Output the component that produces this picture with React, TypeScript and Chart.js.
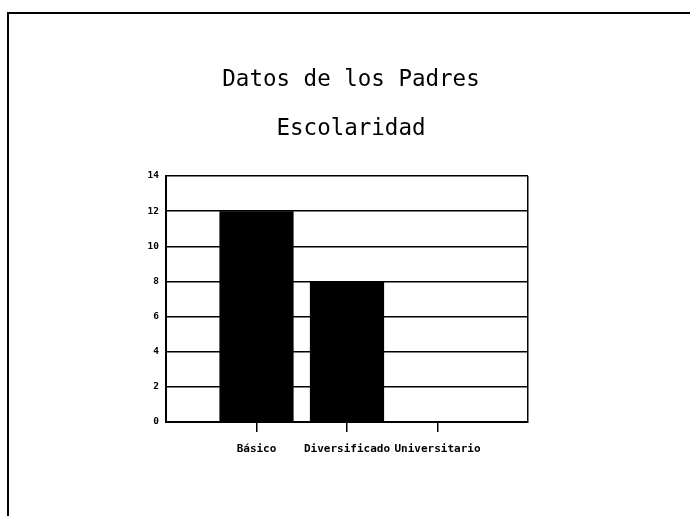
import React, { useEffect, useRef } from "react";
import { Chart, registerables } from "chart.js";

Chart.register(...registerables);

const titleText = "Datos de los Padres";
const subtitleText = "Escolaridad";
const categories = ["Básico", "Diversificado", "Universitario"];
const values = [12, 8, 0];
const yMin = 0;
const yMax = 14;
const yStep = 2;

const framePlugin = {
  id: "pageFrame",
  beforeDraw(chart: any) {
    const ctx = chart.ctx;
    ctx.save();
    ctx.strokeStyle = "#000";
    ctx.lineWidth = 2;
    ctx.beginPath();
    ctx.moveTo(8, 516);
    ctx.lineTo(8, 13);
    ctx.lineTo(690, 13);
    ctx.stroke();
    ctx.restore();
  },
};

export default function App() {
  const ref = useRef<HTMLCanvasElement>(null);

  useEffect(() => {
    if (!ref.current) return;
    const labels = ["", ...categories, ""];
    const data = [null, ...values, null];
    const last = labels.length - 1;
    const chart = new Chart(ref.current, {
      type: "bar",
      data: {
        labels,
        datasets: [
          {
            data,
            backgroundColor: "#000",
            borderWidth: 0,
            barPercentage: 0.82,
            categoryPercentage: 1,
          },
        ],
      },
      options: {
        animation: false,
        responsive: false,
        devicePixelRatio: 1,
        layout: { padding: { left: 12, right: 0, top: 0, bottom: 54 } },
        plugins: {
          legend: { display: false },
          tooltip: { enabled: false },
          title: {
            display: true,
            text: titleText,
            color: "#000",
            font: { family: "'DejaVu Sans Mono', monospace", size: 22.5, weight: "normal", lineHeight: 1.2 },
            padding: { top: 66.5, bottom: 10 },
          },
          subtitle: {
            display: true,
            text: subtitleText,
            color: "#000",
            font: { family: "'DejaVu Sans Mono', monospace", size: 22.5, weight: "normal", lineHeight: 1.2 },
            padding: { top: 12.4, bottom: 33.1 },
          },
        },
        scales: {
          x: {
            offset: false,
            grid: {
              display: true,
              offset: false,
              drawOnChartArea: true,
              drawTicks: true,
              tickLength: 10,
              lineWidth: 1.5,
              color: (c: any) => (c.index === last ? "#000" : "rgba(0,0,0,0)"),
              tickColor: (c: any) => (c.index > 0 && c.index < last ? "#000" : "rgba(0,0,0,0)"),
            },
            border: { display: true, color: "#000", width: 2 },
            ticks: {
              color: "#000",
              autoSkip: false,
              maxRotation: 0,
              padding: 11,
              font: { family: "'DejaVu Sans Mono', monospace", size: 11, weight: "bold" },
            },
            afterFit: (s: any) => {
              s.height = 40;
            },
          },
          y: {
            min: yMin,
            max: yMax,
            grid: {
              display: true,
              drawTicks: false,
              color: "#000",
              lineWidth: 1.5,
            },
            border: { display: true, color: "#000", width: 2 },
            ticks: {
              stepSize: yStep,
              color: "#000",
              padding: 7,
              font: { family: "'DejaVu Sans Mono', monospace", size: 9.5, weight: "bold" },
            },
            afterFit: (s: any) => {
              s.width = 154;
            },
          },
          yRight: {
            position: "right",
            display: true,
            min: yMin,
            max: yMax,
            grid: { display: false, drawTicks: false },
            border: { display: false },
            ticks: { display: false },
            afterFit: (s: any) => {
              s.width = 162;
            },
          },
        },
      },
      plugins: [framePlugin],
    } as any);
    return () => chart.destroy();
  }, []);

  return (
    <div style={{ position: "absolute", left: 0, top: 0, width: 690, height: 516, background: "#fff" }}>
      <canvas ref={ref} width={690} height={516} style={{ display: "block" }} />
    </div>
  );
}
